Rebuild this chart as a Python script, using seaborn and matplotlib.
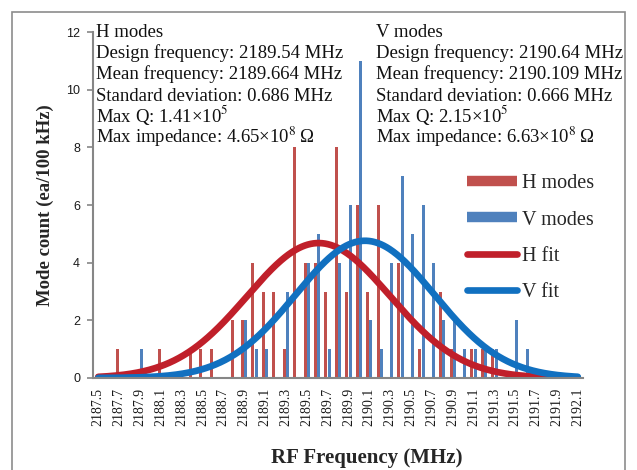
import numpy as np
import pandas as pd
import matplotlib
matplotlib.use("Agg")
import matplotlib.pyplot as plt
import seaborn as sns
from matplotlib.lines import Line2D
from matplotlib.patches import Rectangle

# ---------------- data ----------------
freq_labels = ["2187.5", "2187.6", "2187.7", "2187.8", "2187.9", "2188.0", "2188.1", "2188.2",
               "2188.3", "2188.4", "2188.5", "2188.6", "2188.7", "2188.8", "2188.9", "2189.0",
               "2189.1", "2189.2", "2189.3", "2189.4", "2189.5", "2189.6", "2189.7", "2189.8",
               "2189.9", "2190.0", "2190.1", "2190.2", "2190.3", "2190.4", "2190.5", "2190.6",
               "2190.7", "2190.8", "2190.9", "2191.0", "2191.1", "2191.2", "2191.3", "2191.4",
               "2191.5", "2191.6", "2191.7", "2191.8", "2191.9", "2192.0", "2192.1"]

h_counts = [0, 0, 1, 0, 0, 0, 1, 0, 0, 1,
            1, 1, 0, 2, 2, 4, 3, 3, 1, 8,
            4, 4, 3, 8, 3, 6, 3, 6, 0, 4,
            0, 1, 0, 3, 1, 0, 1, 1, 1, 0,
            0, 0, 0, 0, 0, 0, 0]
v_counts = [0, 0, 0, 0, 1, 0, 0, 0, 0, 0,
            0, 0, 0, 0, 2, 1, 1, 0, 3, 0,
            4, 5, 1, 4, 6, 11, 2, 1, 4, 7,
            5, 6, 4, 2, 2, 1, 1, 1, 1, 0,
            2, 1, 0, 0, 0, 0, 0]

series_names = ["H modes", "V modes"]
fit_names = ["H fit", "V fit"]

# Gaussian fit parameters (mean, std from annotations; peak)
fit_mean = [2189.664, 2190.109]
fit_std = [0.686, 0.666]
fit_peak = [4.68, 4.76]
bin_start = 2187.5
bin_width = 0.1

h_text = ["H modes",
          "Design frequency: 2189.54 MHz",
          "Mean frequency: 2189.664 MHz",
          "Standard deviation: 0.686 MHz",
          "Max Q: 1.41\u00d710$^{5}$",
          "Max impedance: 4.65\u00d710$^{8}$\u2009\u03a9"]
v_text = ["V modes",
          "Design frequency: 2190.64 MHz",
          "Mean frequency: 2190.109 MHz",
          "Standard deviation: 0.666 MHz",
          "Max Q: 2.15\u00d710$^{5}$",
          "Max impedance: 6.63\u00d710$^{8}$\u2009\u03a9"]

y_ticks = [0, 2, 4, 6, 8, 10, 12]

bar_colors = {"H modes": "#C0504D", "V modes": "#4F81BD"}
fit_colors = ["#C01F2A", "#1170C0"]

# ---------------- style ----------------
sns.set_style("white")
plt.rcParams["font.family"] = ["Liberation Serif", "DejaVu Serif"]
plt.rcParams["mathtext.fontset"] = "stix"

W, H = 637, 470
fig = plt.figure(figsize=(W / 100, H / 100), dpi=100)
ax = fig.add_axes([92.5 / W, 92 / H, (583 - 92.5) / W, (378 - 32) / H])

df = pd.DataFrame({
    "freq": freq_labels * 2,
    "count": h_counts + v_counts,
    "mode": [series_names[0]] * len(freq_labels) + [series_names[1]] * len(freq_labels),
})

sns.barplot(data=df, x="freq", y="count", hue="mode", order=freq_labels,
            hue_order=series_names, palette=bar_colors, width=0.64, gap=0.1,
            saturation=1, errorbar=None, legend=False, linewidth=0, ax=ax)

# fitted curves in category units
pos = np.linspace(0, len(freq_labels) - 1, 500)
freq_at_pos = bin_start + bin_width * pos + bin_width / 2
for m, s, a, c in zip(fit_mean, fit_std, fit_peak, fit_colors):
    yv = a * np.exp(-0.5 * ((freq_at_pos - m) / s) ** 2)
    sns.lineplot(x=pos, y=yv, color=c, lw=4.8, solid_capstyle="round", ax=ax,
                 estimator=None, sort=False)

ax.set_xlim(-0.55, len(freq_labels) - 0.5)
ax.set_ylim(0, 12)
ax.set_xlabel("")
ax.set_ylabel("")

gray = "#868686"
ax.set_xticks(range(0, len(freq_labels), 2))
ax.set_xticklabels(freq_labels[::2], rotation=90, fontsize=10,
                   family=["Liberation Serif"], color="#1a1a1a")
ax.set_xticks(np.arange(-0.5, len(freq_labels), 1), minor=True)
ax.tick_params(axis="x", which="major", length=0, pad=7)
ax.tick_params(axis="x", which="minor", length=4, width=1.2, color=gray, direction="out")

ax.set_yticks(y_ticks)
ax.set_yticklabels([str(t) for t in y_ticks], fontsize=9,
                   family=["Liberation Sans"], color="#1a1a1a")
ax.tick_params(axis="y", length=4, width=1.2, color=gray, direction="out", pad=5, left=True)

for sp in ["top", "right"]:
    ax.spines[sp].set_visible(False)
for sp in ["left", "bottom"]:
    ax.spines[sp].set_color(gray)
    ax.spines[sp].set_linewidth(1.5)

# annotations (baseline-aligned so superscripts do not shift lines)
line_base = [37, 58, 79, 101, 122, 143]
for txt, yy in zip(h_text, line_base):
    fig.text(96 / W, 1 - yy / H, txt, ha="left", va="baseline", fontsize=13.5, color="#111111")
for txt, yy in zip(v_text, line_base):
    fig.text(376 / W, 1 - yy / H, txt, ha="left", va="baseline", fontsize=13.5, color="#111111")

# legend
handles = [
    Line2D([], [], color=bar_colors[series_names[0]], lw=7.5, solid_capstyle="butt"),
    Line2D([], [], color=bar_colors[series_names[1]], lw=7.5, solid_capstyle="butt"),
    Line2D([], [], color=fit_colors[0], lw=4.8, solid_capstyle="round"),
    Line2D([], [], color=fit_colors[1], lw=4.8, solid_capstyle="round"),
]
ax.legend(handles, series_names + fit_names, loc="upper left",
          bbox_to_anchor=(467 / W, 1 - 174 / H), bbox_transform=fig.transFigure,
          frameon=False, fontsize=14.5, handlelength=2.5, handletextpad=0.25,
          labelspacing=0.86, borderpad=0, borderaxespad=0)

# axis titles
fig.text(45 / W, 1 - 205 / H, "Mode count (ea/100 kHz)", rotation=90, ha="center",
         va="center", fontsize=13.5, fontweight="bold")
fig.text(367 / W, 1 - 458 / H, "RF Frequency (MHz)", ha="center", va="center",
         fontsize=15, fontweight="bold")

# outer frame
fig.add_artist(Rectangle((12 / W, -0.02), (625 - 12) / W, (H - 12) / H + 0.02,
                         transform=fig.transFigure, fill=False, ec="#8c8c8c", lw=1.2))

fig.savefig("out.png", dpi=100)
